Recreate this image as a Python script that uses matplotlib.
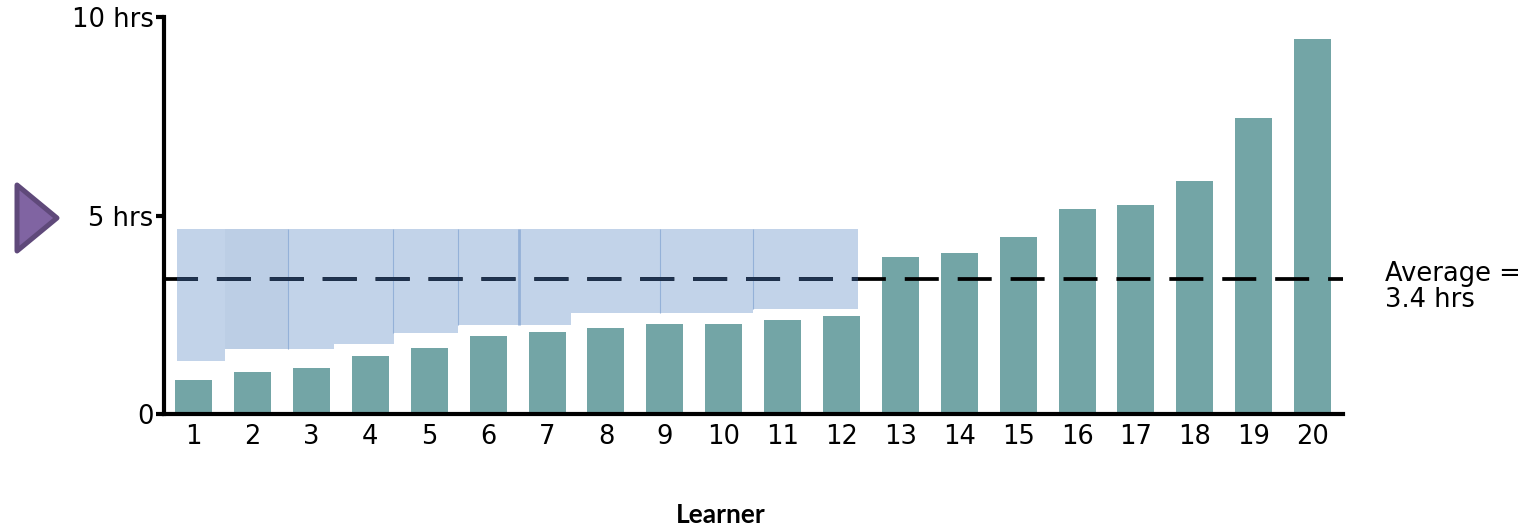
import matplotlib
matplotlib.use('Agg')
import matplotlib.pyplot as plt
from matplotlib.patches import Polygon, Rectangle

# learners and hours
learners = list(range(1, 21))
hours = [0.86, 1.06, 1.16, 1.46, 1.66, 1.96, 2.07, 2.17, 2.27, 2.27,
         2.37, 2.47, 3.95, 4.05, 4.46, 5.16, 5.26, 5.87, 7.46, 9.45]
y_ticks = [0, 5, 10]
y_labels = ['0', '5 hrs', '10 hrs']
average = 3.4

# shaded band: steps along the learner axis
band_edges = [0.716, 1.53, 3.38, 4.40, 5.49, 7.40, 10.49, 12.28]
band_low = [1.335, 1.64, 1.76, 2.04, 2.24, 2.54, 2.645]
band_top = 4.66
band_seams = [2.606, 4.39, 5.48, 6.53, 8.91, 10.49]
seam_low = [1.64, 2.04, 2.24, 2.24, 2.54, 2.645]
seam_width = [0.8, 0.8, 0.8, 2, 0.8, 0.8]

W, H = 1526, 526
plt.rcParams['font.family'] = ['DejaVu Sans']
label_size = 18.5

fig = plt.figure(figsize=(W / 100, H / 100), dpi=100)
# axes box in pixels: spines at x=164 and y=414
ax = fig.add_axes([164 / W, 1 - 414 / H, (1343 - 164) / W, (414 - 17) / H])
ax.set_xlim(0.496, 20.515)
ax.set_ylim(0, 10)

ax.bar(learners, hours, width=0.628, color='#73a5a6', zorder=2)

for i in range(len(band_low)):
    ax.fill_between(band_edges[i:i + 2], band_low[i], band_top, color='#c2d3e9',
                    lw=0, zorder=2.5)
ax.fill_between([1.53, 2.606], 1.64, band_top, color='#bccee5', lw=0, zorder=2.6)
for x, low, lw in zip(band_seams, seam_low, seam_width):
    ax.vlines(x, low, band_top, color='#94b1d8', lw=lw, zorder=2.7)

# dashes are black, but navy where they cross the band
dash = (9.07, 5.04)
ax.plot([0.496, 20.515], [average, average], color='black', lw=2.7, zorder=3,
        dashes=dash, dash_capstyle='butt')
navy, = ax.plot([0.496, 20.515], [average, average], color='#1f3350', lw=2.7, zorder=3.1,
                dashes=dash, dash_capstyle='butt')
navy.set_clip_path(Rectangle((band_edges[0], 0), band_edges[-1] - band_edges[0], 10,
                             transform=ax.transData))

ax.spines['top'].set_visible(False)
ax.spines['right'].set_visible(False)
ax.spines['left'].set_linewidth(3)
ax.spines['bottom'].set_linewidth(3)
ax.spines['left'].set_zorder(6)
ax.spines['bottom'].set_zorder(6)

ax.set_xticks(learners)
ax.tick_params(axis='x', length=0, labelsize=label_size, pad=7)
ax.set_yticks(y_ticks)
ax.set_yticklabels(y_labels)
ax.tick_params(axis='y', length=6, width=3, labelsize=label_size, pad=1.5)

fig.text(721 / W, 1 - 523 / H, 'Learner', ha='center', va='baseline', fontsize=19,
         fontweight='bold', family=['Lato', 'DejaVu Sans'])
fig.text(1385 / W, 1 - 281 / H, 'Average =', ha='left', va='baseline', fontsize=label_size)
fig.text(1385 / W, 1 - 307 / H, '3.4 hrs', ha='left', va='baseline', fontsize=label_size)

# purple arrow left of the axis
arrow = [(17 / W, 1 - 185 / H), (57 / W, 1 - 218 / H), (17 / W, 1 - 251 / H)]
fig.add_artist(Polygon(arrow, closed=True, transform=fig.transFigure, facecolor='#8064a2',
                       edgecolor='#5f497a', lw=3.6, joinstyle='round'))

fig.savefig('out.png', dpi=100)
